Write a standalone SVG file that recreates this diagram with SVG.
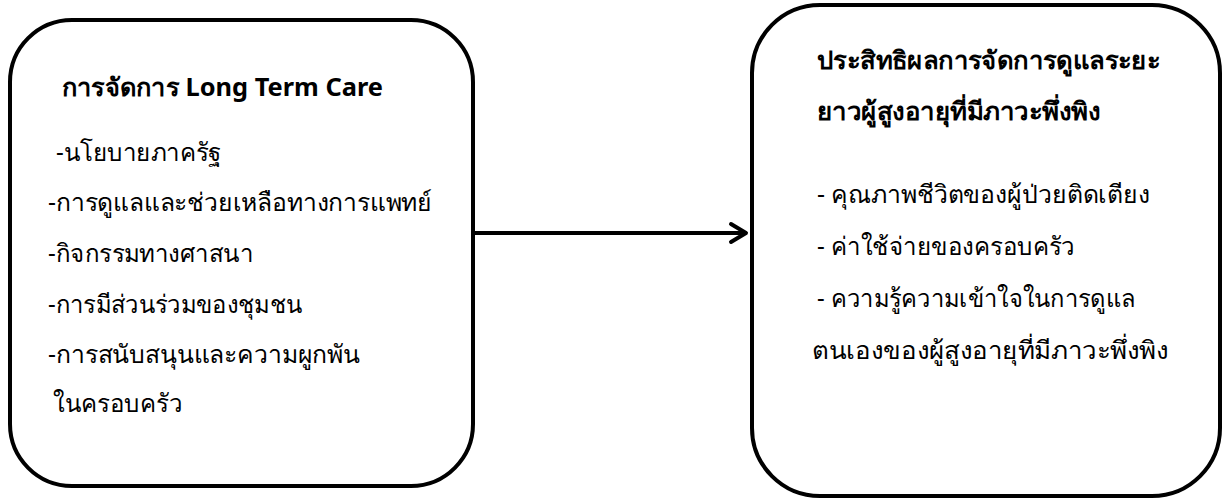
<svg xmlns="http://www.w3.org/2000/svg" width="1223" height="500" viewBox="0 0 1223 500">
<style>
.box{fill:#fff;stroke:#000;stroke-width:4}
.t{font-family:"Noto Sans","DejaVu Sans",sans-serif;font-size:25px;fill:#000}
.b{font-weight:bold}
.conn{stroke:#000;stroke-width:4;fill:none}
</style>
<rect width="1223" height="500" fill="#fff"/>
<g id="node-left">
<rect class="box" x="10" y="20" width="463" height="466" rx="62" ry="62"/>
<text class="t b" x="62" y="96" textLength="321" lengthAdjust="spacingAndGlyphs">การจัดการ Long Term Care</text>
<text class="t" x="56" y="161" textLength="166" lengthAdjust="spacingAndGlyphs">-นโยบายภาครัฐ</text>
<text class="t" x="48" y="211" textLength="384" lengthAdjust="spacingAndGlyphs">-การดูแลและช่วยเหลือทางการแพทย์</text>
<text class="t" x="48" y="262" textLength="205" lengthAdjust="spacingAndGlyphs">-กิจกรรมทางศาสนา</text>
<text class="t" x="48" y="313" textLength="254" lengthAdjust="spacingAndGlyphs">-การมีส่วนร่วมของชุมชน</text>
<text class="t" x="48" y="363" textLength="312" lengthAdjust="spacingAndGlyphs">-การสนับสนุนและความผูกพัน</text>
<text class="t" x="53" y="412" textLength="129" lengthAdjust="spacingAndGlyphs">ในครอบครัว</text>
</g>
<g id="node-right">
<rect class="box" x="752" y="5" width="468" height="491" rx="68" ry="68"/>
<text class="t b" x="817" y="69" textLength="343" lengthAdjust="spacingAndGlyphs">ประสิทธิผลการจัดการดูแลระยะ</text>
<text class="t b" x="817" y="120" textLength="283" lengthAdjust="spacingAndGlyphs">ยาวผู้สูงอายุที่มีภาวะพึ่งพิง</text>
<text class="t" x="817" y="203" textLength="333" lengthAdjust="spacingAndGlyphs">- คุณภาพชีวิตของผู้ป่วยติดเตียง</text>
<text class="t" x="817" y="255" textLength="258" lengthAdjust="spacingAndGlyphs">- ค่าใช้จ่ายของครอบครัว</text>
<text class="t" x="817" y="307" textLength="318" lengthAdjust="spacingAndGlyphs">- ความรู้ความเข้าใจในการดูแล</text>
<text class="t" x="812" y="359" textLength="356" lengthAdjust="spacingAndGlyphs">ตนเองของผู้สูงอายุที่มีภาวะพึ่งพิง</text>
</g>
<g id="connectors">
<line class="conn" x1="475" y1="233" x2="746" y2="233"/>
<polyline class="conn" points="731,224 746,233 731,242" stroke-linecap="round" stroke-linejoin="round"/>
</g>
</svg>
